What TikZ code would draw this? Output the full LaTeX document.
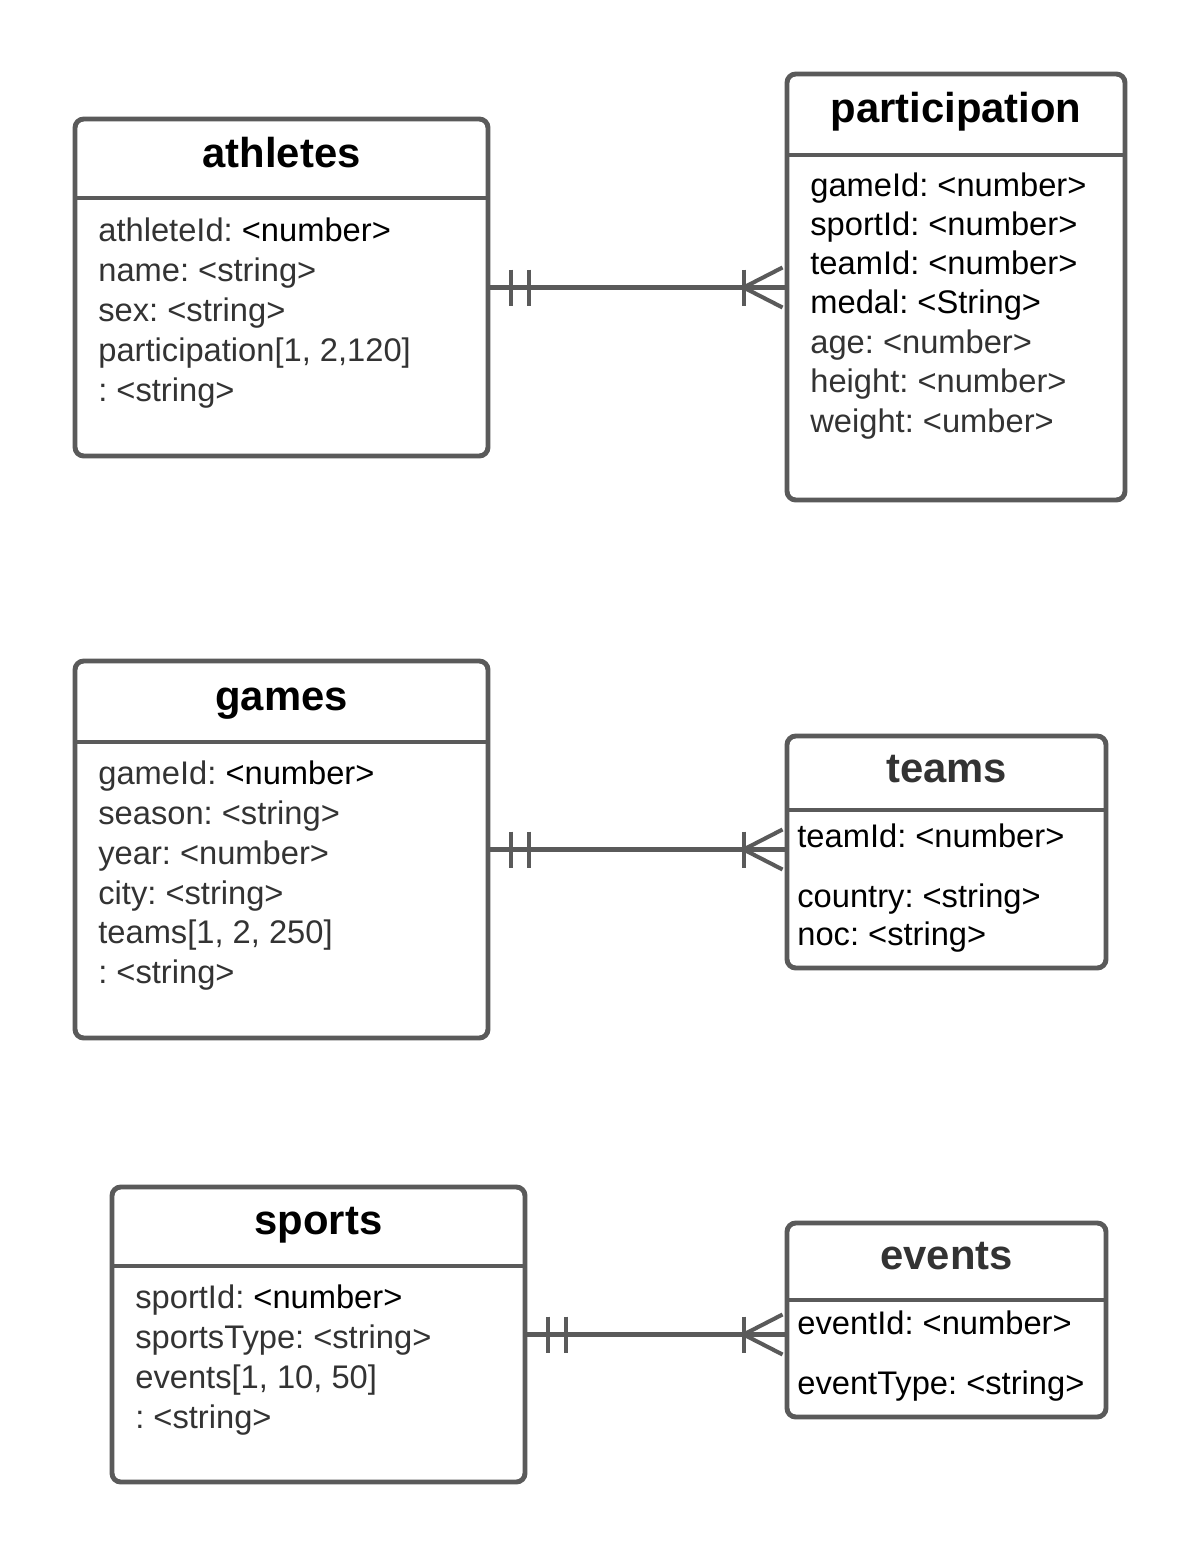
\documentclass[tikz,border=0pt]{standalone}
\usepackage{fontspec}
\setmainfont{Liberation Sans}
\usetikzlibrary{fit,calc}
\definecolor{edgegrey}{HTML}{5A5A5A}
\definecolor{txtgrey}{HTML}{333333}
\frenchspacing
\begin{document}
\begin{tikzpicture}[x=0.02cm,y=-0.02cm,
  tbl/.style={draw=edgegrey, line width=2.8pt, rounded corners=5pt, inner sep=0pt},
  divider/.style={draw=edgegrey, line width=2.8pt},
  conn/.style={draw=edgegrey, line width=2.3pt},
  ttl/.style={anchor=base, font=\fontsize{23.8}{28}\selectfont\bfseries, inner sep=0pt},
  fld/.style={anchor=base west, font=\fontsize{18.6}{22}\selectfont\frenchspacing, inner sep=0pt, text=txtgrey},
  fldb/.style={fld, text=black},
]
\useasboundingbox (0,0) rectangle (1200,1558);
\fill[white] (0,0) rectangle (1200,1558);

% ---------- athletes ----------
\node[tbl, fit={(75,119) (488,456)}] (athletes) {};
\draw[divider] (75,198) -- (488,198);
\node[ttl] (athletesT) at (281.5,167) {athletes};
\node[fld] (athF1) at (98,241) {athleteId: \textcolor{black}{<number>}};
\node[fld] (athF2) at (98,281) {name: <string>};
\node[fld] (athF3) at (98,321) {sex: <string>};
\node[fld] (athF4) at (98,361) {participation[1, 2,120]};
\node[fld] (athF5) at (98,401) {: <string>};

% ---------- participation ----------
\node[tbl, fit={(787,74) (1125,500)}] (participation) {};
\draw[divider] (787,155) -- (1125,155);
\node[ttl] (participationT) at (956,123) {participation};
\node[fldb] (parF1) at (810,196) {gameId: <number>};
\node[fldb] (parF2) at (810,235) {sportId: <number>};
\node[fldb] (parF3) at (810,274) {teamId: <number>};
\node[fldb] (parF4) at (810,313) {medal: <String>};
\node[fld] (parF5) at (810,353) {age: <number>};
\node[fld] (parF6) at (810,392) {height: <number>};
\node[fld] (parF7) at (810,432) {weight: <umber>};

% ---------- games ----------
\node[tbl, fit={(75,661) (488,1038)}] (games) {};
\draw[divider] (75,742) -- (488,742);
\node[ttl] (gamesT) at (281.5,710) {games};
\node[fld] (gamF1) at (98,784) {gameId: \textcolor{black}{<number>}};
\node[fld] (gamF2) at (98,824) {season: <string>};
\node[fld] (gamF3) at (98,864) {year: <number>};
\node[fld] (gamF4) at (98,904) {city: <string>};
\node[fld] (gamF5) at (98,943) {teams[1, 2, 250]};
\node[fld] (gamF6) at (98,983) {: <string>};

% ---------- teams ----------
\node[tbl, fit={(787,736) (1106,968)}] (teams) {};
\draw[divider] (787,810) -- (1106,810);
\node[ttl, text=txtgrey] (teamsT) at (946.5,782) {teams};
\node[fldb] (teaF1) at (797,847) {teamId: <number>};
\node[fldb] (teaF2) at (797,907) {country: <string>};
\node[fldb] (teaF3) at (797,945) {noc: <string>};

% ---------- sports ----------
\node[tbl, fit={(112,1187) (525,1482)}] (sports) {};
\draw[divider] (112,1266) -- (525,1266);
\node[ttl] (sportsT) at (318.5,1234) {sports};
\node[fld] (spoF1) at (135,1308) {sportId: \textcolor{black}{<number>}};
\node[fld] (spoF2) at (135,1348) {sportsType: <string>};
\node[fld] (spoF3) at (135,1388) {events[1, 10, 50]};
\node[fld] (spoF4) at (135,1428) {: <string>};

% ---------- events ----------
\node[tbl, fit={(787,1223) (1106,1417)}] (events) {};
\draw[divider] (787,1300) -- (1106,1300);
\node[ttl, text=txtgrey] (eventsT) at (946.5,1269) {events};
\node[fldb] (eveF1) at (797,1334) {eventId: <number>};
\node[fldb] (eveF2) at (797,1394) {eventType: <string>};

% ---------- connectors (one-and-only-one to one-or-many) ----------
\foreach \a/\b in {athletes/participation, games/teams, sports/events}{
  \coordinate (\a-s) at (\a.east);
  \coordinate (\a-e) at (\a.east -| \b.west);
  \draw[conn] (\a-s) -- (\a-e);
  \draw[conn] ($(\a-s)+(21,-18)$) -- ++(0,36);
  \draw[conn] ($(\a-s)+(39,-18)$) -- ++(0,36);
  \draw[conn] ($(\a-e)+(-41,-18)$) -- ++(0,36);
  \draw[conn] ($(\a-e)+(-2,-20)$) -- ($(\a-e)+(-41,0)$) -- ($(\a-e)+(-2,20)$);
}
\end{tikzpicture}
\end{document}
